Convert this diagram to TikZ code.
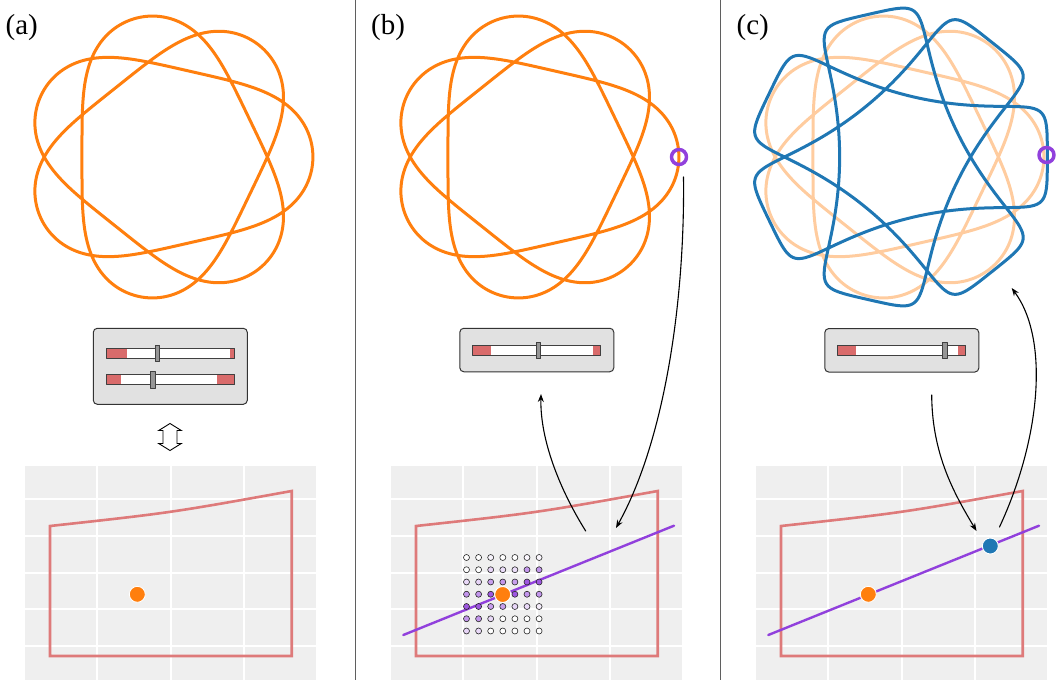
\documentclass[tikz,border=0pt]{standalone}
\usepackage{fontspec}
\setmainfont{Liberation Serif}
\usetikzlibrary{arrows.meta}
\definecolor{curveorange}{RGB}{255,127,14}
\definecolor{curveblue}{RGB}{31,119,180}
\definecolor{linepurple}{RGB}{145,64,220}
\definecolor{regionred}{RGB}{222,122,122}
\definecolor{sliderred}{RGB}{217,107,107}
\definecolor{chartgrey}{RGB}{239,239,239}
\definecolor{boxgrey}{RGB}{225,225,225}
\definecolor{knobgrey}{RGB}{150,150,150}
\definecolor{sepgrey}{RGB}{95,95,95}
% closed curve: centre, radius, weights of the e^{-4it}, e^{-11it}, e^{10it} terms
\newcommand{\curvepath}[6]{plot[domain=0:360, samples=420, smooth]
  ({#1+#3*(cos(3*\x)+#4*cos(4*\x)+#5*cos(11*\x)+#6*cos(10*\x))},
   {#2-#3*(sin(3*\x)-#4*sin(4*\x)-#5*sin(11*\x)+#6*sin(10*\x))})}
% slider track: left x, top y, red left end, red right start, knob x
\newcommand{\slidertrack}[5]{
  \fill[white] (#1,#2) rectangle (#1+128,#2+10.6);
  \fill[sliderred] (#1,#2) rectangle (#3,#2+10.6);
  \fill[sliderred] (#4,#2) rectangle (#1+128,#2+10.6);
  \draw[black!75, line width=0.9pt] (#1,#2) rectangle (#1+128,#2+10.6);
  \draw[knob] (#5-2.4,#2-3) rectangle (#5+2.4,#2+13.6);
}

\begin{document}
\begin{tikzpicture}[x=1pt, y=-1pt, line cap=round, line join=round,
  panel/.style={font=\fontsize{29}{30}\selectfont, anchor=base west, inner sep=0pt},
  sliderbox/.style={draw=black!80, fill=boxgrey, line width=1pt, rounded corners=4pt,
    inner sep=0pt, minimum width=154pt},
  knob/.style={draw=black!75, fill=knobgrey, line width=0.8pt},
  gridline/.style={white, line width=2pt, line cap=butt},
  region/.style={regionred, line width=2.6pt, line join=miter},
  fitline/.style={linepurple, line width=2.4pt},
  bigdot/.style={circle, draw=white, line width=0.9pt, inner sep=0pt, minimum size=16pt},
  griddot/.style={circle, draw=black!85, line width=0.6pt, inner sep=0pt, minimum size=6pt},
  ring/.style={circle, draw=linepurple, line width=3.5pt, inner sep=0pt, minimum size=15pt},
  flowarrow/.style={black, line width=1.1pt, -{Stealth[length=8pt, width=6pt]}}]

  \useasboundingbox (0,0) rectangle (1061,680);

  % Panel separators
  \draw[sepgrey, line width=0.8pt] (355,0) -- (355,680);
  \draw[sepgrey, line width=0.8pt] (720,0) -- (720,680);

  % Panel labels
  \node[panel] (labA) at (5.5,34.5) {(a)};
  \node[panel] (labB) at (371,34.5) {(b)};
  \node[panel] (labC) at (736.5,34.5) {(c)};

  % Curves
  \draw[curveorange, line width=3pt] \curvepath{170}{157}{117.3}{0.194}{-0.0156}{0.04};
  \draw[curveorange, line width=3pt] \curvepath{536}{157}{117.3}{0.194}{-0.0156}{0.04};
  \draw[curveorange!40!white, line width=3pt] \curvepath{901}{157}{117.3}{0.194}{-0.0156}{0.04};
  \draw[curveblue, line width=3pt] \curvepath{901}{157}{118}{0.36}{-0.12}{0};

  % Selected point on the curve
  \node[ring] (ringB) at (679,157) {};
  \node[ring] (ringC) at (1046.5,155) {};

  % Slider boxes
  \node[sliderbox, minimum height=76pt] (boxA) at (170.3,366.3) {};
  \slidertrack{106.7}{348}{126.7}{230}{157.3}
  \slidertrack{106.7}{374.3}{121}{217.3}{152.5}
  \node[sliderbox, minimum height=43.5pt] (boxB) at (536.8,350) {};
  \slidertrack{472.8}{345}{490.7}{593.3}{538.3}
  \node[sliderbox, minimum height=43.5pt] (boxC) at (901.8,350.3) {};
  \slidertrack{837.8}{345}{855.7}{958.3}{944.7}

  % Two-way arrow between sliders and chart
  \draw[black, line width=0.9pt, fill=white, line join=miter]
    (170,423.5) -- (181.3,430.5) -- (177,430.5) -- (177,443.5) -- (181.3,443.5)
    -- (170,450.5) -- (158.7,443.5) -- (163,443.5) -- (163,430.5) -- (158.7,430.5) -- cycle;

  % Parameter charts
  \foreach \dx in {0,366,731}{
    \fill[chartgrey] (25+\dx,466) rectangle (316+\dx,680);
    \foreach \gx in {97.3,170.7,244}
      \draw[gridline] (\gx+\dx,466) -- (\gx+\dx,680);
    \foreach \gy in {499.3,536,572.7,609.3,646}
      \draw[gridline] (25+\dx,\gy) -- (316+\dx,\gy);
    \draw[region] (50+\dx,656) -- (50+\dx,526)
      .. controls (170.7+\dx,512.8) .. (291.7+\dx,491) -- (291.7+\dx,656) -- cycle;
  }

  % Fitted lines
  \draw[fitline] (403.3,635) -- (674,525.7);
  \draw[fitline] (768.3,635) -- (1039,525.7);

  % Sample grid around the point
  \foreach \row [count=\j from 0] in {
      {0,0,6,0,0,4,4},
      {0,0,22,18,18,55,55},
      {20,22,50,55,50,88,88},
      {55,55,88,0,88,55,55},
      {88,88,50,50,22,20,10},
      {55,55,20,0,0,0,0},
      {22,20,0,0,0,0,0}}{
    \foreach \v [count=\i from 0] in \row
      \node[griddot, fill=linepurple!\v!white] (s\i\j) at (466.5+12.1*\i,557.5+12.25*\j) {};
  }

  % Points
  \node[bigdot, fill=curveorange] (ptA) at (137.3,594.3) {};
  \node[bigdot, fill=curveorange] (ptB) at (502.7,594.5) {};
  \node[bigdot, fill=curveorange] (ptC) at (868.3,594.3) {};
  \node[bigdot, fill=curveblue] (newC) at (990.3,546) {};

  % Flow arrows
  \coordinate (bOut) at (683.5,177);
  \coordinate (bIn) at (616,528);
  \coordinate (bUp) at (585.7,531);
  \coordinate (bTop) at (541,394);
  \draw[flowarrow] (bOut) .. controls (685,300) and (665,440) .. (bIn);
  \draw[flowarrow] (bUp) .. controls (560,490) and (540,440) .. (bTop);

  \coordinate (cDown) at (931.7,395);
  \coordinate (cIn) at (976.5,531);
  \coordinate (cUp) at (999.5,527);
  \coordinate (cTop) at (1011.7,288);
  \draw[flowarrow] (cDown) .. controls (932,455) and (955,495) .. (cIn);
  \draw[flowarrow] (cUp) .. controls (1040,440) and (1050,340) .. (cTop);

\end{tikzpicture}
\end{document}
